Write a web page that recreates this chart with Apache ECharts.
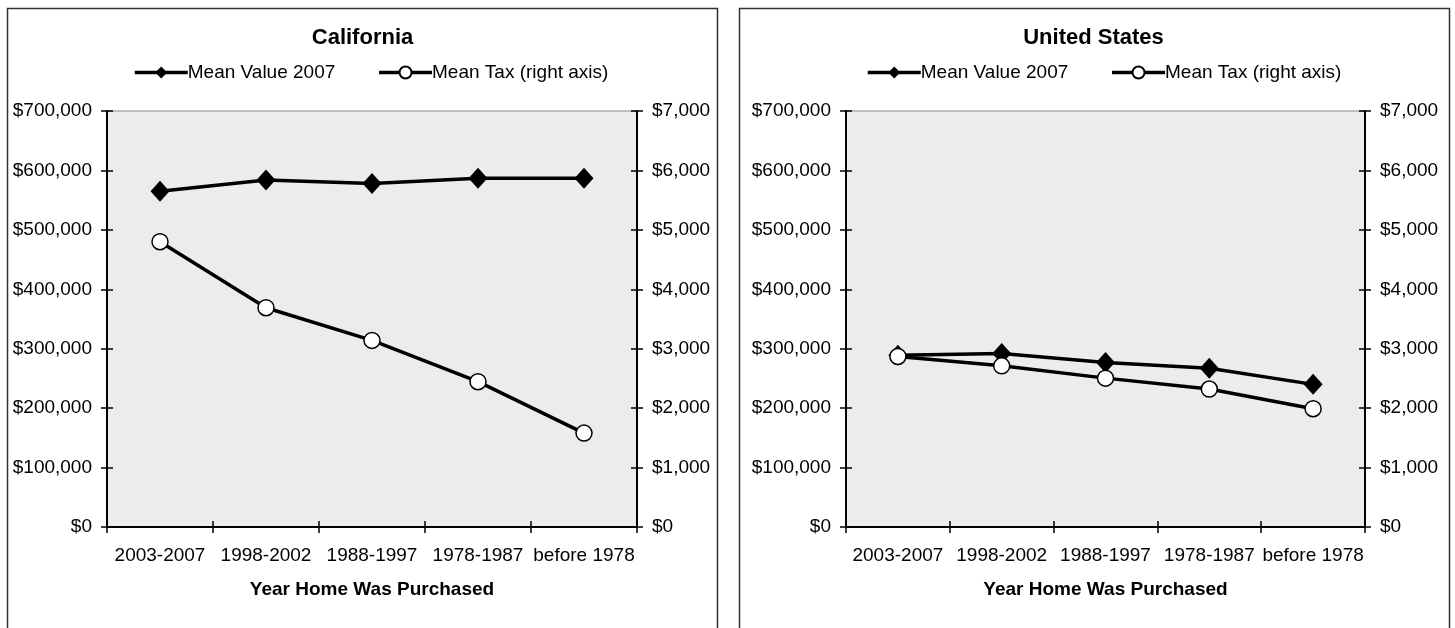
<!DOCTYPE html>
<html>
<head>
<meta charset="utf-8">
<title>Mean Home Value and Property Tax by Year Purchased</title>
<script src="https://cdn.jsdelivr.net/npm/echarts@6/dist/echarts.min.js"></script>
<style>
  html, body { margin: 0; padding: 0; background: #ffffff; }
  #chart { width: 1455px; height: 628px; }
</style>
</head>
<body>
<div id="chart"></div>
<script>
// Year-of-purchase buckets shared by both panels
const categories = ['2003-2007', '1998-2002', '1988-1997', '1978-1987', 'before 1978'];

// California
const caMeanValue = [565000, 584000, 578000, 587000, 587000];
const caMeanTax = [4800, 3690, 3140, 2445, 1580];

// United States
const usMeanValue = [289000, 292000, 277000, 267000, 240000];
const usMeanTax = [2870, 2712, 2505, 2322, 1990];

// Axis ranges (left: home value, right: tax)
const valueAxisMax = 700000;
const valueAxisStep = 100000;
const taxAxisMax = 7000;
const taxAxisStep = 1000;

const seriesNames = ['Mean Value 2007', 'Mean Tax (right axis)'];
const xAxisName = 'Year Home Was Purchased';

const FONT = '"Liberation Sans", Arial, sans-serif';
const money = v => '$' + Math.round(v).toLocaleString('en-US');

const panels = [
  { title: 'California', value: caMeanValue, tax: caMeanTax,
    gridLeft: 107, gridWidth: 530, center: 362.5, legendLeft: 133, frameX: 7.5 },
  { title: 'United States', value: usMeanValue, tax: usMeanTax,
    gridLeft: 846, gridWidth: 519, center: 1093.5, legendLeft: 866, frameX: 739.5 }
];

const option = {
  animation: false,
  backgroundColor: '#ffffff',
  textStyle: { fontFamily: FONT, color: '#000' },
  title: [], legend: [], grid: [], xAxis: [], yAxis: [], series: [],
  graphic: []
};

const tickStyle = { color: '#000', width: 1.5 };

panels.forEach((p, i) => {
  // panel frame
  option.graphic.push({
    type: 'rect', silent: true, z: -1,
    shape: { x: p.frameX, y: 8.5, width: 710, height: 700 },
    style: { fill: 'none', stroke: '#333', lineWidth: 1.5 }
  });

  option.title.push({
    text: p.title, left: p.center, top: 27, textAlign: 'center', padding: 0,
    textStyle: { fontFamily: FONT, fontSize: 22, fontWeight: 'bold', color: '#000' }
  });

  option.legend.push({
    data: seriesNames.map(n => n + '\u200B'.repeat(i)),
    left: p.legendLeft, top: 63, padding: 0,
    itemWidth: 53, itemHeight: 15, itemGap: 42,
    lineStyle: { width: 3.5 },
    textStyle: { fontFamily: FONT, fontSize: 19, color: '#000', padding: [0, 0, 0, -5] }
  });

  option.grid.push({
    left: p.gridLeft, top: 111, width: p.gridWidth, height: 416,
    show: true, backgroundColor: '#ececec', borderColor: '#8c8c8c', borderWidth: 1
  });

  const xBase = option.xAxis.length;
  // main category axis: labels, name, outward ticks
  option.xAxis.push({
    type: 'category', gridIndex: i, data: categories, position: 'bottom',
    axisLine: { show: true, lineStyle: { color: '#000', width: 2 } },
    axisTick: { show: true, inside: false, length: 6, lineStyle: tickStyle },
    axisLabel: { fontFamily: FONT, fontSize: 19, color: '#000', margin: 19, interval: 0 },
    name: xAxisName, nameLocation: 'middle', nameGap: 53,
    nameTextStyle: { fontFamily: FONT, fontSize: 19, fontWeight: 'bold', color: '#000' },
    splitLine: { show: false }
  });
  // inward half of the cross tick marks
  option.xAxis.push({
    type: 'category', gridIndex: i, data: categories, position: 'bottom',
    axisLine: { show: false },
    axisTick: { show: true, inside: true, length: 6, lineStyle: tickStyle },
    axisLabel: { show: false }, splitLine: { show: false }
  });

  const yBase = option.yAxis.length;
  const valueAxis = (pos, inside, labels) => ({
    type: 'value', gridIndex: i, position: pos,
    min: 0, max: valueAxisMax, interval: valueAxisStep,
    axisLine: { show: labels, lineStyle: { color: '#000', width: 2 } },
    axisTick: { show: true, inside: inside, length: 6, lineStyle: tickStyle },
    axisLabel: { show: labels, fontFamily: FONT, fontSize: 19, color: '#000', margin: 15, formatter: money },
    splitLine: { show: false }
  });
  const taxAxis = (pos, inside, labels) => ({
    type: 'value', gridIndex: i, position: pos,
    min: 0, max: taxAxisMax, interval: taxAxisStep,
    axisLine: { show: labels, lineStyle: { color: '#000', width: 2 } },
    axisTick: { show: true, inside: inside, length: 6, lineStyle: tickStyle },
    axisLabel: { show: labels, fontFamily: FONT, fontSize: 19, color: '#000', margin: 15, formatter: money },
    splitLine: { show: false }
  });
  option.yAxis.push(valueAxis('left', false, true));   // yBase
  option.yAxis.push(taxAxis('right', false, true));    // yBase + 1
  option.yAxis.push(valueAxis('left', true, false));
  option.yAxis.push(taxAxis('right', true, false));

  option.series.push({
    name: seriesNames[0] + '\u200B'.repeat(i), type: 'line',
    xAxisIndex: xBase, yAxisIndex: yBase, data: p.value,
    symbol: 'diamond', symbolSize: [19, 21],
    lineStyle: { color: '#000', width: 3.5 },
    itemStyle: { color: '#000', borderColor: '#000', borderWidth: 0 },
    z: 3
  });
  option.series.push({
    name: seriesNames[1] + '\u200B'.repeat(i), type: 'line',
    xAxisIndex: xBase, yAxisIndex: yBase + 1, data: p.tax,
    symbol: 'circle', symbolSize: 16,
    lineStyle: { color: '#000', width: 3.5 },
    itemStyle: { color: '#ffffff', borderColor: '#000', borderWidth: 1.5 },
    z: 4
  });
});

const chart = echarts.init(document.getElementById('chart'), null, { renderer: 'canvas' });
chart.setOption(option);
</script>
</body>
</html>
